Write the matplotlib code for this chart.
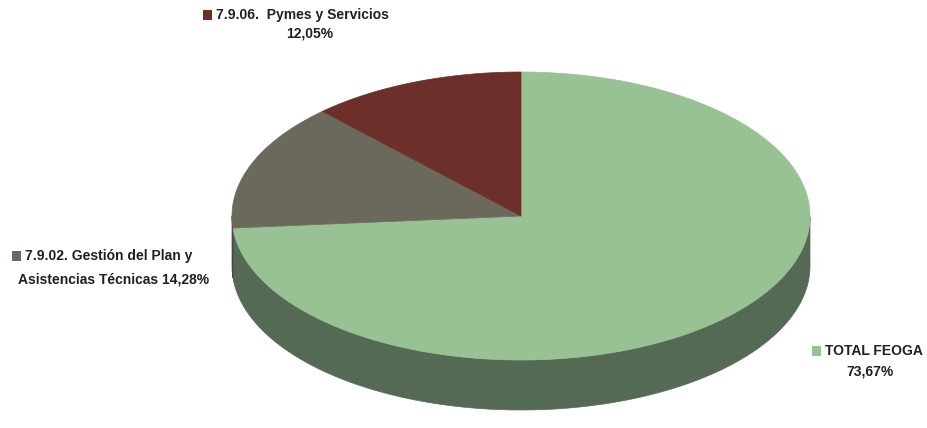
import numpy as np
import matplotlib
matplotlib.use("Agg")
from matplotlib import pyplot as plt
from matplotlib.patches import Polygon, Rectangle

# data
labels = ["TOTAL FEOGA", "7.9.02. Gestión del Plan y\nAsistencias Técnicas", "7.9.06.  Pymes y Servicios"]
values = [73.67, 14.28, 12.05]
pct_text = ["73,67%", "14,28%", "12,05%"]
top_colors = ["#98c194", "#6b685c", "#6c2f2a"]
side_colors = ["#556a55", "#4a4840", "#4e2420"]

plt.rcParams['font.family'] = ['Liberation Sans', 'DejaVu Sans']

fig = plt.figure(figsize=(9.27, 4.28), dpi=100)
ax = fig.add_axes([0, 0, 1, 1])
ax.set_xlim(0, 927)
ax.set_ylim(428, 0)
ax.axis("off")

# ellipse geometry (pixels)
cx, cy = 521, 216
a, b = 289, 144
depth = 50

def pt(t):
    t = np.radians(t)
    return cx + a * np.cos(t), cy - b * np.sin(t)

# slices go clockwise starting at the top
angles = []
start = 90.0
for v in values:
    sweep = 360.0 * v / sum(values)
    angles.append((start - sweep, start))
    start -= sweep

# side walls (front half only)
for (lo, hi), sc in zip(angles, side_colors):
    t = np.linspace(lo, hi, 400)
    t = t[np.sin(np.radians(t)) <= 0]
    if len(t) < 2:
        continue
    xs, ys = pt(t)
    verts = list(zip(xs, ys)) + list(zip(xs[::-1], ys[::-1] + depth))
    ax.add_patch(Polygon(verts, closed=True, fc=sc, ec=sc, lw=0.5))

# top faces
for (lo, hi), tc in zip(angles, top_colors):
    t = np.linspace(lo, hi, 300)
    xs, ys = pt(t)
    verts = [(cx, cy)] + list(zip(xs, ys))
    ax.add_patch(Polygon(verts, closed=True, fc=tc, ec=tc, lw=0.5))

# labels
fs = 10
kw = dict(fontsize=fs, fontweight="bold", color="#231f20")

# Pymes
ax.add_patch(Rectangle((203, 10), 9, 10, fc=top_colors[2], ec="none"))
ax.text(216, 15, labels[2], ha="left", va="center", **kw)
ax.text(310, 33, pct_text[2], ha="center", va="center", **kw)

# Gestion
ax.add_patch(Rectangle((12, 251), 9, 10, fc=top_colors[1], ec="none"))
l1, l2 = labels[1].split("\n")
ax.text(25, 256, l1, ha="left", va="center", **kw)
ax.text(18, 280, l2 + " " + pct_text[1], ha="left", va="center", **kw)

# FEOGA
ax.add_patch(Rectangle((812, 346), 9, 10, fc=top_colors[0], ec="none"))
ax.text(825, 351, labels[0], ha="left", va="center", **kw)
ax.text(870, 372, pct_text[0], ha="center", va="center", **kw)

fig.savefig("out.png", dpi=100)
